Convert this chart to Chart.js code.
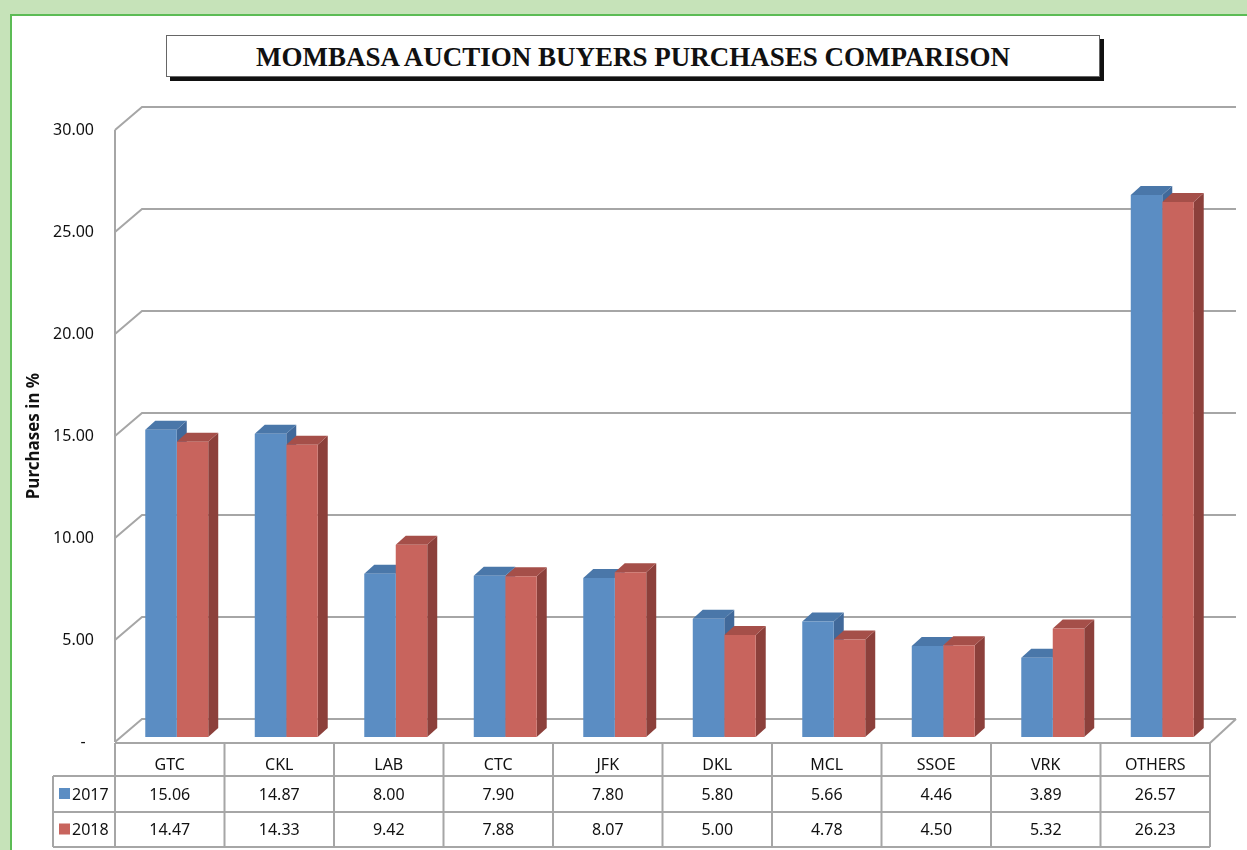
<!DOCTYPE html>
<html>
<head>
<meta charset="utf-8">
<script src="https://cdn.jsdelivr.net/npm/chart.js@4"></script>
<style>
  html, body { margin: 0; padding: 0; }
  body { width: 1247px; height: 850px; background: #c6e3b9; position: relative; overflow: hidden; }
  #frame { position: absolute; left: 10px; top: 14px; width: 1260px; height: 860px;
           background: #fff; border-left: 2px solid #5cbc55; border-top: 2px solid #5cbc55; }
  #title { position: absolute; left: 166px; top: 35px; width: 932px; height: 40px;
           border: 1px solid #666; background: #fff; box-shadow: 4px 4px 0 #111;
           font: bold 27px "Liberation Serif", serif; color: #111; text-align: center; line-height: 42px;
           white-space: nowrap; }
  #c { position: absolute; left: 0; top: 0; }
</style>
</head>
<body>
<div id="frame"></div>
<div id="title">MOMBASA AUCTION BUYERS PURCHASES COMPARISON</div>
<canvas id="c" width="1247" height="850"></canvas>
<script>
// Data
const buyers = ['GTC', 'CKL', 'LAB', 'CTC', 'JFK', 'DKL', 'MCL', 'SSOE', 'VRK', 'OTHERS'];
const years = ['2017', '2018'];
const purchases2017 = [15.06, 14.87, 8.00, 7.90, 7.80, 5.80, 5.66, 4.46, 3.89, 26.57];
const purchases2018 = [14.47, 14.33, 9.42, 7.88, 8.07, 5.00, 4.78, 4.50, 5.32, 26.23];
const yTicks = [0, 5, 10, 15, 20, 25, 30];

// Look
const colors = {
    front: ['#5b8dc3', '#c8645d'],
    top: ['#4a77a9', '#a54f49'],
    side: ['#41699a', '#8c403b']
};
const GRID = '#a6a6a6';
const WALL_DX = 27, WALL_DY = -23;   // back wall offset
const BAR_DX = 7, BAR_DY = -5;       // bars sit inside the floor
const DEPTH_X = 10, DEPTH_Y = -9;    // bar depth
const FONT = '"Noto Sans", sans-serif';

const threeD = {
    id: 'threeD',
    beforeDatasetsDraw(chart) {
        const { ctx, chartArea: a, scales: { y } } = chart;
        const backRight = a.right + WALL_DX - 1;
        ctx.save();
        ctx.strokeStyle = GRID;
        ctx.lineWidth = 2;
        // back wall gridlines + left wall diagonals
        yTicks.forEach(v => {
            const py = y.getPixelForValue(v);
            ctx.beginPath();
            ctx.moveTo(a.left, py);
            ctx.lineTo(a.left + WALL_DX, py + WALL_DY);
            ctx.lineTo(backRight, py + WALL_DY);
            ctx.stroke();
        });
        // left wall front edge
        ctx.beginPath();
        ctx.moveTo(a.left, y.getPixelForValue(30));
        ctx.lineTo(a.left, y.getPixelForValue(0));
        ctx.stroke();
        // floor right edge
        const y0 = y.getPixelForValue(0);
        ctx.beginPath();
        ctx.moveTo(backRight, y0 + WALL_DY);
        ctx.lineTo(a.right, y0 + 1);
        ctx.stroke();
        ctx.restore();

        // bars: shift, then tops and sides
        ctx.save();
        ctx.translate(BAR_DX, BAR_DY);
        chart.data.datasets.forEach((ds, di) => {
            chart.getDatasetMeta(di).data.forEach(bar => {
                const l = bar.x - bar.width / 2, r = bar.x + bar.width / 2;
                const t = bar.y, b = bar.base;
                ctx.fillStyle = colors.side[di];
                ctx.beginPath();
                ctx.moveTo(r, t);
                ctx.lineTo(r + DEPTH_X, t + DEPTH_Y);
                ctx.lineTo(r + DEPTH_X, b + DEPTH_Y);
                ctx.lineTo(r, b);
                ctx.closePath();
                ctx.fill();
                ctx.fillStyle = colors.top[di];
                ctx.beginPath();
                ctx.moveTo(l, t);
                ctx.lineTo(l + DEPTH_X, t + DEPTH_Y);
                ctx.lineTo(r + DEPTH_X, t + DEPTH_Y);
                ctx.lineTo(r, t);
                ctx.closePath();
                ctx.fill();
            });
        });
    },
    afterDatasetsDraw(chart) {
        chart.ctx.restore();
    },
    afterDraw(chart) {
        const { ctx, chartArea: a, scales: { x } } = chart;
        const colW = (a.right - a.left) / buyers.length;
        const top = a.bottom + 1;
        const rows = [top, top + 33, top + 69, top + 104];
        const legendLeft = 53;
        ctx.save();
        ctx.strokeStyle = GRID;
        ctx.lineWidth = 2;
        ctx.beginPath();
        ctx.moveTo(a.left, rows[0]); ctx.lineTo(a.right, rows[0]);
        for (let r = 1; r < rows.length; r++) {
            ctx.moveTo(legendLeft, rows[r]); ctx.lineTo(a.right, rows[r]);
        }
        for (let i = 0; i <= buyers.length; i++) {
            const px = a.left + i * colW;
            ctx.moveTo(px, rows[0]); ctx.lineTo(px, rows[3]);
        }
        ctx.moveTo(legendLeft, rows[1]); ctx.lineTo(legendLeft, rows[3]);
        ctx.stroke();

        ctx.fillStyle = '#111';
        ctx.font = '16px ' + FONT;
        ctx.textAlign = 'center';
        ctx.textBaseline = 'middle';
        [purchases2017, purchases2018].forEach((vals, ri) => {
            const cy = (rows[ri + 1] + rows[ri + 2]) / 2 + 1;
            vals.forEach((v, i) => ctx.fillText(v.toFixed(2), x.getPixelForValue(i), cy));
        });
        // legend keys
        ctx.textAlign = 'left';
        years.forEach((yr, ri) => {
            const cy = (rows[ri + 1] + rows[ri + 2]) / 2;
            ctx.fillStyle = colors.front[ri];
            ctx.fillRect(59, cy - 6, 11, 11);
            ctx.fillStyle = '#111';
            ctx.fillText(yr, 72, cy + 1);
        });
        ctx.restore();
    }
};

new Chart(document.getElementById('c'), {
    type: 'bar',
    data: {
        labels: buyers,
        datasets: [
            { label: years[0], data: purchases2017, backgroundColor: colors.front[0] },
            { label: years[1], data: purchases2018, backgroundColor: colors.front[1] }
        ]
    },
    options: {
        responsive: false,
        animation: false,
        layout: { padding: { left: 14, top: 130, right: 37, bottom: 0 } },
        datasets: { bar: { barPercentage: 1, categoryPercentage: 0.575, borderWidth: 0 } },
        plugins: { legend: { display: false }, tooltip: { enabled: false } },
        scales: {
            x: {
                grid: { display: false, drawTicks: false },
                border: { display: false },
                ticks: { color: '#111', font: { family: FONT, size: 16 }, padding: 14 },
                afterFit(s) { s.height = 108; }
            },
            y: {
                min: 0, max: 30,
                afterBuildTicks(s) { s.ticks = yTicks.map(v => ({ value: v })); },
                grid: { display: false, drawTicks: false },
                border: { display: false },
                ticks: {
                    color: '#111', font: { family: FONT, size: 16 }, padding: 21,
                    callback: v => v === 0 ? '-  ' : v.toFixed(2)
                },
                title: { display: true, text: 'Purchases in %', color: '#111',
                         font: { family: FONT, size: 17, weight: 'bold' }, padding: { top: 10, bottom: 0 } },
                afterFit(s) { s.width = 101; }
            }
        }
    },
    plugins: [threeD]
});
</script>
</body>
</html>
